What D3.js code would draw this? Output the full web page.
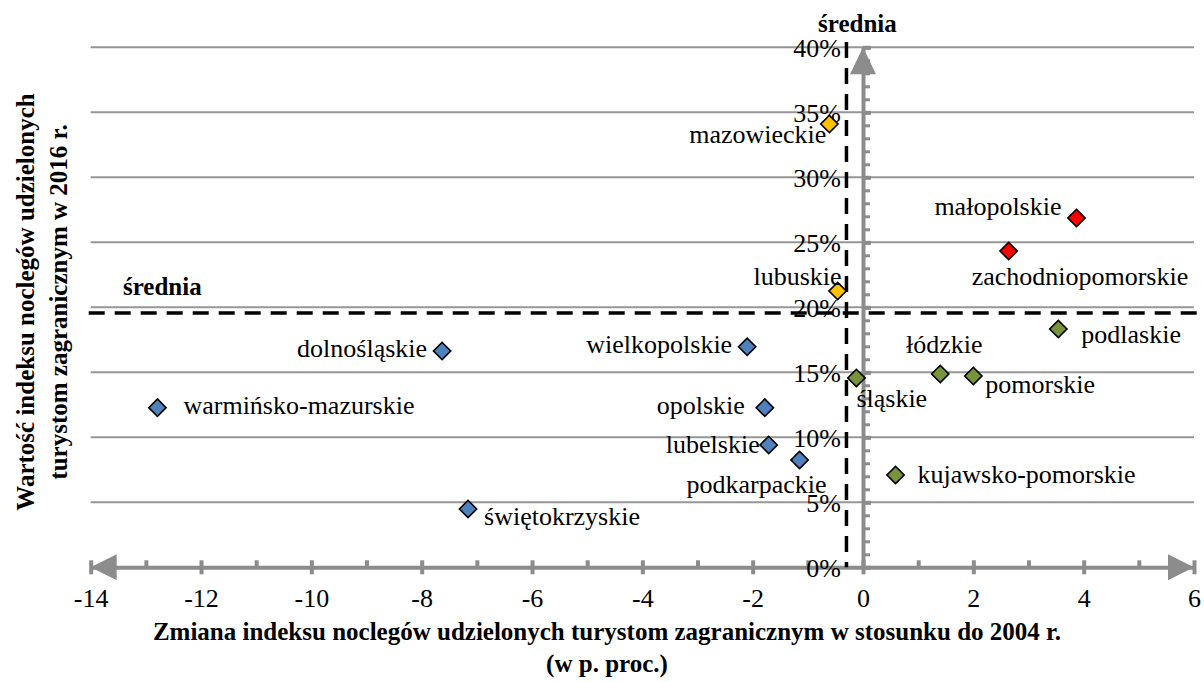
<!DOCTYPE html>
<html>
<head>
<meta charset="utf-8">
<script src="https://cdn.jsdelivr.net/npm/d3@7"></script>
<style>
  body { margin: 0; background: #ffffff; }
  svg { display: block; }
  svg text { font-family: "Liberation Serif", "Tinos", "Times New Roman", "DejaVu Serif", serif !important; fill: #000; }
</style>
</head>
<body>
<svg id="chart" width="1204" height="682"></svg>
<script>
// Województwa: zmiana indeksu (p. proc. wzgl. 2004) i wartość indeksu w 2016 r.
const regions = [
  "warmińsko-mazurskie", "dolnośląskie", "świętokrzyskie", "wielkopolskie",
  "opolskie", "lubelskie", "podkarpackie", "mazowieckie", "lubuskie",
  "małopolskie", "zachodniopomorskie", "podlaskie", "łódzkie", "pomorskie",
  "śląskie", "kujawsko-pomorskie"
];
const changeVs2004 = [
  -12.79, -7.63, -7.16, -2.10, -1.78, -1.71, -1.15, -0.61, -0.46,
  3.87, 2.64, 3.54, 1.40, 2.00, -0.12, 0.59
];
const index2016 = [
  0.1228, 0.1664, 0.0448, 0.1697, 0.1228, 0.0941, 0.0825, 0.3410, 0.2125,
  0.2687, 0.2433, 0.1833, 0.1487, 0.1472, 0.1456, 0.0710
];
const quadrant = [
  "LL", "LL", "LL", "LL", "LL", "LL", "LL", "UL", "UL",
  "UR", "UR", "LR", "LR", "LR", "LR", "LR"
];
const meanChange = -0.30;
const meanIndex = 0.1956;
const xMajorTicks = [-14, -12, -10, -8, -6, -4, -2, 0, 2, 4, 6];
const xMinorTicks = [-13, -11, -9, -7, -5, -3, -1, 1, 3, 5];
const yMajorTicks = [0, 0.05, 0.10, 0.15, 0.20, 0.25, 0.30, 0.35, 0.40];
const yMinorTicks = d3.range(0, 41).map(d => d / 100);

// Kolory ćwiartek względem średnich
const quadrantColor = { LL: "#4f81bd", UL: "#ffc000", UR: "#ff0000", LR: "#77933c" };

// Położenie podpisów względem punktów: [dx, dy, kotwica]
const labelPlacement = {
  "warmińsko-mazurskie": [26, 6, "start"],
  "dolnośląskie": [-15, 6, "end"],
  "świętokrzyskie": [16, 16, "start"],
  "wielkopolskie": [-15, 6, "end"],
  "opolskie": [-20, 6, "end"],
  "lubelskie": [-9, 8, "end"],
  "podkarpackie": [-43, 33, "middle"],
  "mazowieckie": [-3, 19, "end"],
  "lubuskie": [4, -6, "end"],
  "małopolskie": [-15, -3, "end"],
  "zachodniopomorskie": [-37, 34, "start"],
  "podlaskie": [23, 14, "start"],
  "łódzkie": [4, -21, "middle"],
  "pomorskie": [12, 17, "start"],
  "śląskie": [0, 29, "start"],
  "kujawsko-pomorskie": [22, 8, "start"]
};

const svg = d3.select("#chart");
const x = d3.scaleLinear().domain([-14, 6]).range([90.7, 1194]);
const y = d3.scaleLinear().domain([0, 0.40]).range([567.3, 47.3]);
const axisGray = "#8c8c8c";
const serif = "Liberation Serif, Tinos, Times New Roman, DejaVu Serif, serif";

// Linie siatki
svg.append("g")
  .selectAll("line")
  .data(yMajorTicks.filter(d => d > 0))
  .join("line")
  .attr("x1", x(-14)).attr("x2", x(6))
  .attr("y1", d => y(d)).attr("y2", d => y(d))
  .attr("stroke", "#969696").attr("stroke-width", 2);

// Oś X
const x0 = y(0);
const gxMinor = svg.append("g").attr("transform", `translate(0,${x0})`)
  .call(d3.axisBottom(x).tickValues(xMinorTicks).tickSize(-7).tickFormat(""));
const gx = svg.append("g").attr("transform", `translate(0,${x0})`)
  .call(d3.axisBottom(x).tickValues(xMajorTicks).tickSize(7).tickSizeOuter(0).tickPadding(14)
    .tickFormat(d => d3.format("d")(d).replace("−", "-")));
[gx, gxMinor].forEach(g => {
  g.attr("font-family", serif);
  g.select(".domain").attr("stroke", axisGray).attr("stroke-width", 4);
  g.selectAll(".tick line").attr("stroke", axisGray).attr("stroke-width", 4);
});
gxMinor.select(".domain").remove();
gx.selectAll(".tick line").attr("y1", -7);
gx.selectAll(".tick text").attr("font-size", 26).attr("fill", "#000");

// Oś Y (przy zerze osi X)
const y0 = x(0);
const gyMinor = svg.append("g").attr("transform", `translate(${y0},0)`)
  .call(d3.axisRight(y).tickValues(yMinorTicks).tickSize(7).tickFormat(""));
gyMinor.select(".domain").remove();
gyMinor.selectAll(".tick line").attr("stroke", axisGray).attr("stroke-width", 3);
const gy = svg.append("g").attr("transform", `translate(${y0},0)`)
  .attr("font-family", serif)
  .call(d3.axisLeft(y).tickValues(yMajorTicks).tickSize(8).tickSizeOuter(0).tickPadding(14)
    .tickFormat(d3.format(".0%")));
gy.attr("font-family", serif);
gy.select(".domain").attr("stroke", axisGray).attr("stroke-width", 4);
gy.selectAll(".tick line").attr("stroke", axisGray).attr("stroke-width", 4).attr("x2", 8);
gy.selectAll(".tick text").attr("font-size", 26).attr("fill", "#000").attr("dy", "0.34em");

// Groty strzałek
const arrows = svg.append("g").attr("fill", axisGray);
arrows.append("path").attr("d",
  `M${x(-14)},${x0} L${x(-14) + 26},${x0 - 13} L${x(-14) + 26},${x0 + 13} Z`);
arrows.append("path").attr("d",
  `M${x(6)},${x0} L${x(6) - 26},${x0 - 13} L${x(6) - 26},${x0 + 13} Z`);
arrows.append("path").attr("d",
  `M${y0},${y(0.40)} L${y0 - 13},${y(0.40) + 27} L${y0 + 13},${y(0.40) + 27} Z`);

// Linie średnich
const meanLines = svg.append("g").attr("stroke", "#000").attr("stroke-width", 3.5)
  .attr("stroke-dasharray", "16,10");
meanLines.append("line")
  .attr("x1", x(meanChange)).attr("x2", x(meanChange))
  .attr("y1", 42).attr("y2", x0);
meanLines.append("line")
  .attr("x1", x(-14) - 2).attr("x2", 1202)
  .attr("y1", y(meanIndex)).attr("y2", y(meanIndex));

svg.append("text").attr("x", x(meanChange) + 11).attr("y", 32)
  .attr("text-anchor", "middle").attr("font-weight", "bold").attr("font-size", 25)
  .attr("font-family", serif)
  .text("średnia");
svg.append("text").attr("x", 123).attr("y", 295)
  .attr("font-weight", "bold").attr("font-size", 25)
  .attr("font-family", serif)
  .text("średnia");

// Punkty
const pts = regions.map((name, i) => ({
  name, cx: changeVs2004[i], cy: index2016[i], q: quadrant[i]
}));
const diamond = d3.symbol().type(d3.symbolSquare).size(150);
svg.append("g").selectAll("path")
  .data(pts)
  .join("path")
  .attr("d", diamond)
  .attr("transform", d => `translate(${x(d.cx)},${y(d.cy)}) rotate(45)`)
  .attr("fill", d => quadrantColor[d.q])
  .attr("stroke", "#000").attr("stroke-width", 1.6);

// Podpisy punktów
svg.append("g").attr("font-family", serif).selectAll("text")
  .data(pts)
  .join("text")
  .attr("x", d => x(d.cx) + labelPlacement[d.name][0])
  .attr("y", d => y(d.cy) + labelPlacement[d.name][1])
  .attr("text-anchor", d => labelPlacement[d.name][2])
  .attr("font-size", 26)
  .text(d => d.name);

// Tytuły osi
const xTitle = svg.append("text").attr("text-anchor", "middle")
  .attr("font-family", serif)
  .attr("font-weight", "bold").attr("font-size", 25);
xTitle.append("tspan").attr("x", 607).attr("y", 640)
  .text("Zmiana indeksu noclegów udzielonych turystom zagranicznym w stosunku do 2004 r.");
xTitle.append("tspan").attr("x", 607).attr("y", 672).text("(w p. proc.)");

const yTitle = svg.append("text").attr("text-anchor", "middle")
  .attr("font-family", serif)
  .attr("font-weight", "bold").attr("font-size", 25)
  .attr("transform", "translate(0,302) rotate(-90)");
yTitle.append("tspan").attr("x", 0).attr("y", 34)
  .text("Wartość indeksu noclegów udzielonych");
yTitle.append("tspan").attr("x", 0).attr("y", 67)
  .text("turystom zagranicznym w 2016 r.");
</script>
</body>
</html>
